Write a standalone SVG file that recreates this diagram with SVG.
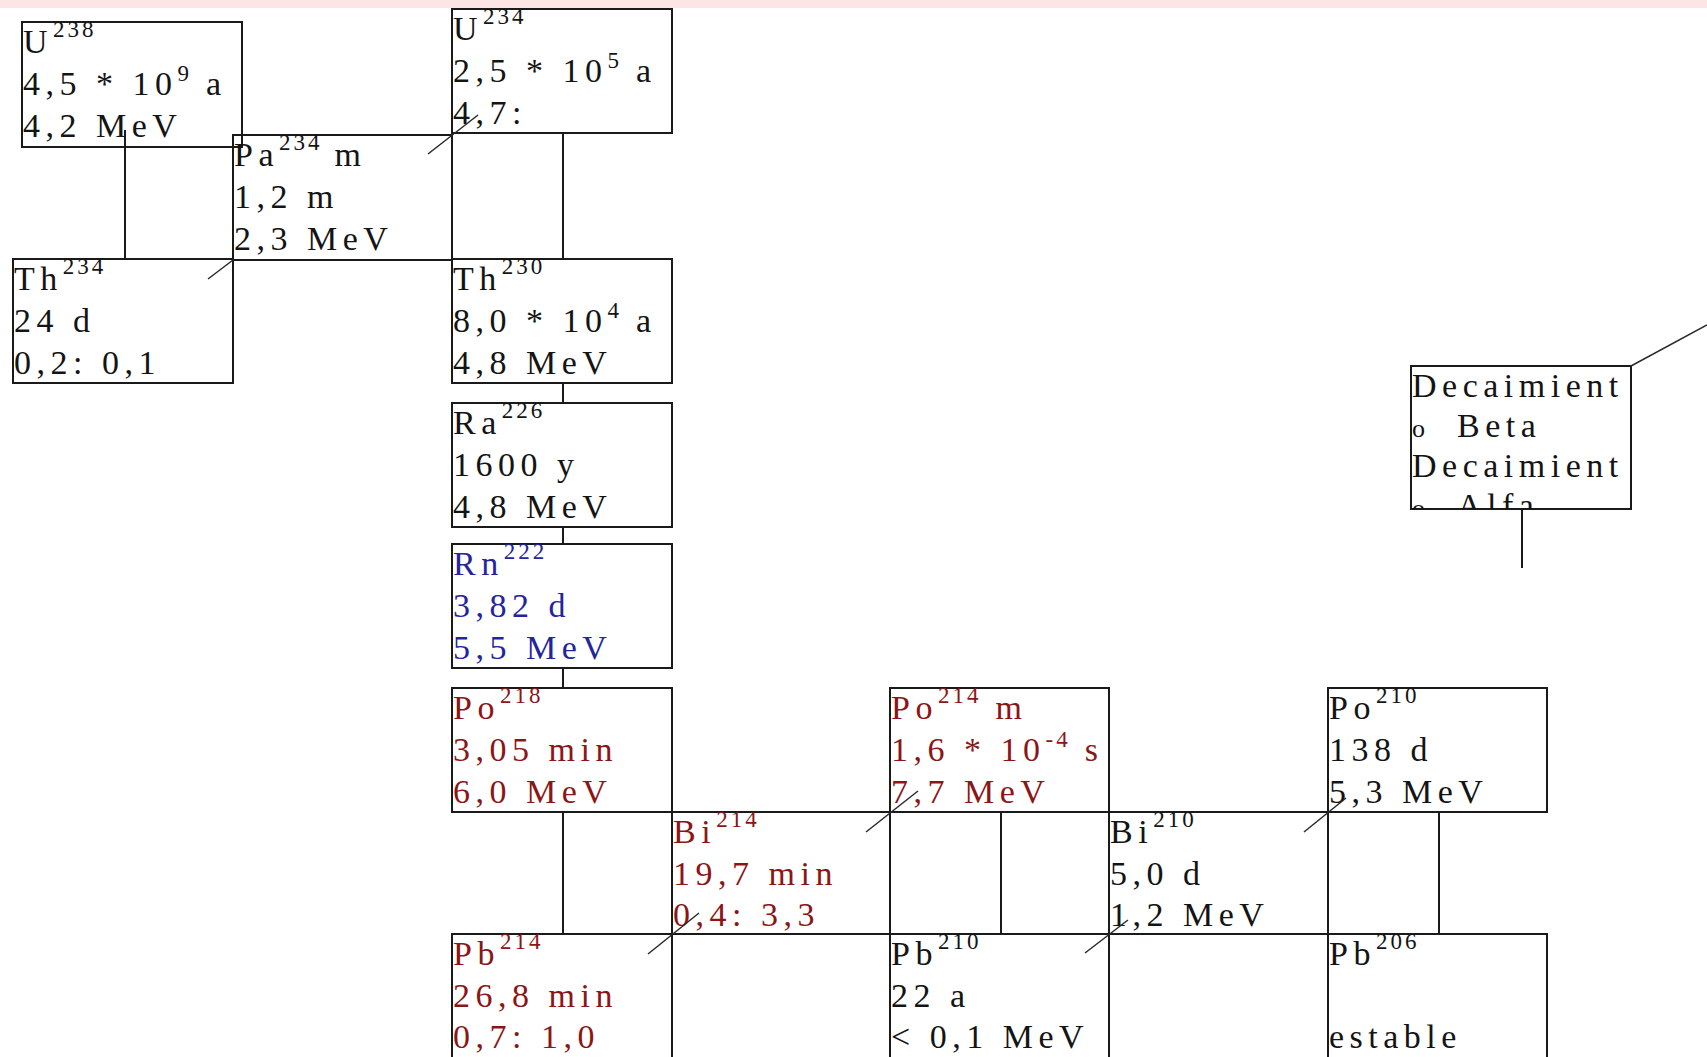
<svg xmlns="http://www.w3.org/2000/svg" width="1707" height="1057" viewBox="0 0 1707 1057">
<defs>
<style>
.box{fill:none;stroke:#1a1a1a;stroke-width:2}
.t{font-family:"Liberation Serif","Times New Roman",serif;font-size:34px;letter-spacing:5.5px;fill:#141414}
.sup{font-size:23px;letter-spacing:3px}
.o{font-size:26px}
.red{fill:#8b1616}
.blue{fill:#24249c}
.conn line{stroke:#1a1a1a;stroke-width:2}
.conn line.beta{stroke:#2a2a2a;stroke-width:1.5}
</style>
<clipPath id="legclip"><rect x="1411" y="366" width="220" height="143"/></clipPath>
</defs>
<rect x="0" y="0" width="1707" height="1057" fill="#ffffff"/>
<rect x="0" y="0" width="1707" height="8" fill="#fde5e5"/>

<g id="U238">
<rect class="box" x="22" y="22" width="220" height="125"/>
<text class="t" x="23" y="53">U<tspan class="sup" dy="-16">238</tspan></text>
<text class="t" x="23" y="95">4,5 * 10<tspan class="sup" dy="-14">9</tspan><tspan dy="14"> a</tspan></text>
<text class="t" x="23" y="137">4,2 MeV</text>
</g>

<g id="U234">
<rect class="box" x="452" y="9" width="220" height="124"/>
<text class="t" x="453" y="40">U<tspan class="sup" dy="-16">234</tspan></text>
<text class="t" x="453" y="82">2,5 * 10<tspan class="sup" dy="-14">5</tspan><tspan dy="14"> a</tspan></text>
<text class="t" x="453" y="124">4,7:</text>
</g>

<g id="Pa234">
<rect class="box" x="233" y="135" width="219" height="125"/>
<text class="t" x="234" y="166">Pa<tspan class="sup" dy="-16">234</tspan><tspan dx="12" dy="16">m</tspan></text>
<text class="t" x="234" y="208">1,2 m</text>
<text class="t" x="234" y="250">2,3 MeV</text>
</g>

<g id="Th234">
<rect class="box" x="13" y="259" width="220" height="124"/>
<text class="t" x="14" y="290">Th<tspan class="sup" dy="-16">234</tspan></text>
<text class="t" x="14" y="332">24 d</text>
<text class="t" x="14" y="374">0,2: 0,1</text>
</g>

<g id="Th230">
<rect class="box" x="452" y="259" width="220" height="124"/>
<text class="t" x="453" y="290">Th<tspan class="sup" dy="-16">230</tspan></text>
<text class="t" x="453" y="332">8,0 * 10<tspan class="sup" dy="-14">4</tspan><tspan dy="14"> a</tspan></text>
<text class="t" x="453" y="374">4,8 MeV</text>
</g>

<g id="Ra226">
<rect class="box" x="452" y="403" width="220" height="124"/>
<text class="t" x="453" y="434">Ra<tspan class="sup" dy="-16">226</tspan></text>
<text class="t" x="453" y="476">1600 y</text>
<text class="t" x="453" y="518">4,8 MeV</text>
</g>

<g id="Rn222">
<rect class="box" x="452" y="544" width="220" height="124"/>
<text class="t blue" x="453" y="575">Rn<tspan class="sup" dy="-16">222</tspan></text>
<text class="t blue" x="453" y="617">3,82 d</text>
<text class="t blue" x="453" y="659">5,5 MeV</text>
</g>

<g id="Po218">
<rect class="box" x="452" y="688" width="220" height="124"/>
<text class="t red" x="453" y="719">Po<tspan class="sup" dy="-16">218</tspan></text>
<text class="t red" x="453" y="761">3,05 min</text>
<text class="t red" x="453" y="803">6,0 MeV</text>
</g>

<g id="Bi214">
<rect class="box" x="672" y="812" width="218" height="122"/>
<text class="t red" x="673" y="843">Bi<tspan class="sup" dy="-16">214</tspan></text>
<text class="t red" x="673" y="885">19,7 min</text>
<text class="t red" x="673" y="926">0,4: 3,3</text>
</g>

<g id="Pb214">
<rect class="box" x="452" y="934" width="220" height="130"/>
<text class="t red" x="453" y="965">Pb<tspan class="sup" dy="-16">214</tspan></text>
<text class="t red" x="453" y="1007">26,8 min</text>
<text class="t red" x="453" y="1048">0,7: 1,0</text>
</g>

<g id="Po214">
<rect class="box" x="890" y="688" width="219" height="124"/>
<text class="t red" x="891" y="719">Po<tspan class="sup" dy="-16">214</tspan><tspan dy="16"> m</tspan></text>
<text class="t red" x="891" y="761">1,6 * 10<tspan class="sup" dy="-14">-4</tspan><tspan dy="14"> s</tspan></text>
<text class="t red" x="891" y="803">7,7 MeV</text>
</g>

<g id="Pb210">
<rect class="box" x="890" y="934" width="219" height="130"/>
<text class="t" x="891" y="965">Pb<tspan class="sup" dy="-16">210</tspan></text>
<text class="t" x="891" y="1007">22 a</text>
<text class="t" x="891" y="1048">&lt; 0,1 MeV</text>
</g>

<g id="Bi210">
<rect class="box" x="1109" y="812" width="219" height="122"/>
<text class="t" x="1110" y="843">Bi<tspan class="sup" dy="-16">210</tspan></text>
<text class="t" x="1110" y="885">5,0 d</text>
<text class="t" x="1110" y="926">1,2 MeV</text>
</g>

<g id="Po210">
<rect class="box" x="1328" y="688" width="219" height="124"/>
<text class="t" x="1329" y="719">Po<tspan class="sup" dy="-16">210</tspan></text>
<text class="t" x="1329" y="761">138 d</text>
<text class="t" x="1329" y="803">5,3 MeV</text>
</g>

<g id="Pb206">
<rect class="box" x="1328" y="934" width="219" height="130"/>
<text class="t" x="1329" y="965">Pb<tspan class="sup" dy="-16">206</tspan></text>
<text class="t" x="1329" y="1048">estable</text>
</g>

<g id="legend">
<rect class="box" x="1411" y="366" width="220" height="143"/>
<g clip-path="url(#legclip)">
<text class="t" x="1412" y="397">Decaimient</text>
<text class="t" x="1412" y="437"><tspan class="o">o</tspan><tspan x="1457">Beta</tspan></text>
<text class="t" x="1412" y="477">Decaimient</text>
<text class="t" x="1412" y="517"><tspan class="o">o</tspan><tspan x="1457">Alfa</tspan></text>
</g>
</g>

<g id="connectors" class="conn">
<line x1="125" y1="130" x2="125" y2="259"/>
<line x1="563" y1="133" x2="563" y2="259"/>
<line x1="563" y1="383" x2="563" y2="403"/>
<line x1="563" y1="527" x2="563" y2="544"/>
<line x1="563" y1="668" x2="563" y2="688"/>
<line x1="563" y1="812" x2="563" y2="934"/>
<line x1="1001" y1="812" x2="1001" y2="934"/>
<line x1="1439" y1="812" x2="1439" y2="934"/>
<line x1="1522" y1="509" x2="1522" y2="568"/>
<line class="beta" x1="1631" y1="366" x2="1707" y2="325"/>
<line class="beta" x1="208" y1="279" x2="233" y2="260"/>
<line class="beta" x1="428" y1="154" x2="478" y2="115"/>
<line class="beta" x1="648" y1="954" x2="699" y2="913"/>
<line class="beta" x1="866" y1="832" x2="918" y2="791"/>
<line class="beta" x1="1085" y1="953" x2="1128" y2="920"/>
<line class="beta" x1="1304" y1="832" x2="1346" y2="798"/>
</g>
</svg>
